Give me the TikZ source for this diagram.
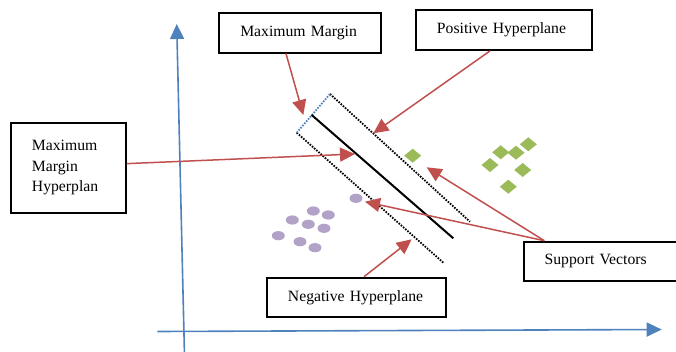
\documentclass[tikz,border=0pt]{standalone}
\usepackage{fontspec}
\setmainfont{Liberation Serif}
\usetikzlibrary{arrows.meta}
\definecolor{axblue}{RGB}{79,129,189}
\definecolor{arred}{RGB}{192,80,77}
\definecolor{ptgreen}{RGB}{155,187,89}
\definecolor{ptpurple}{RGB}{179,162,199}
\tikzset{
  lbox/.style={draw=black, line width=1.9pt, fill=white, anchor=north west, align=left,
    inner xsep=21pt, inner ysep=0pt, font=\fontsize{15.7}{20.5}\selectfont},
  axis/.style={draw=axblue, line width=1.6pt, -{Triangle[length=15pt,width=14pt]}},
  callout/.style={draw=arred, line width=1.5pt, -{Triangle[length=15pt,width=14pt]}},
  marginline/.style={line width=1.8pt, dash pattern=on 1.6pt off 1.3pt},
}
\begin{document}
\begin{tikzpicture}[x=1pt,y=-1pt]
\useasboundingbox (0,0) rectangle (676,352);
\clip (0,0) rectangle (676,352);
% axes
\coordinate (xs) at (157.3,331.5);
\coordinate (xe) at (661.7,329.5);
\coordinate (ys) at (184.5,356);
\coordinate (ye) at (176.7,24);
\draw[axis] (xs) -- (xe);
\draw[axis] (ys) -- (ye);
% margin lines
\coordinate (ua) at (330,94);
\coordinate (ub) at (470,221.7);
\coordinate (la) at (296.7,132.7);
\coordinate (lb) at (444,263.3);
\coordinate (sa) at (311.7,115);
\coordinate (sb) at (453.3,238.3);
\draw[marginline, black] (ua) -- (ub);
\draw[marginline, black] (la) -- (lb);
\draw[marginline, axblue] (la) -- (ua);
\draw[line width=2pt, black] (sa) -- (sb);
% green points
\foreach \p in {(412.7,155.7),(500.7,152.3),(516,152.7),(528.3,144.3),(490,165),(522.7,170),(508.3,186.7)}
  \fill[ptgreen] \p +(-8.5,0) -- +(0,-7) -- +(8.5,0) -- +(0,7) -- cycle;
% purple points
\foreach \p in {(356,198.3),(313.3,211),(328.3,215),(292.3,220),(308.3,224.3),(324,228.3),(278.3,235.7),(300,241.7),(315,247.7)}
  \fill[ptpurple] \p ellipse[x radius=6.5pt, y radius=4.6pt];
% arrow targets
\coordinate (tmm) at (303.3,115);
\coordinate (tph) at (373.3,133.3);
\coordinate (tmmh) at (355,154);
\coordinate (tnh) at (411.7,239.3);
\coordinate (tsv1) at (365,201.7);
\coordinate (tsv2) at (426.7,167.3);
% boxes
\node[lbox, minimum height=40pt, text width=119.7pt] (mm) at (218.3,11.7) {Maximum Margin};
\node[lbox, minimum height=39.7pt, text width=133.7pt] (ph) at (415,9.3) {Positive Hyperplane};
\node[lbox, minimum height=90pt, text width=72.7pt] (mmh) at (10,121.7) {Maximum\\Margin\\Hyperplan};
\node[lbox, minimum height=39.3pt, text width=137pt] (nh) at (266,276.7) {Negative Hyperplane};
\node[lbox, minimum height=39.3pt, text width=118pt] (sv) at (522.7,240.7) {Support Vectors};
% callouts
\draw[callout] ([xshift=67.7pt]mm.south west) -- (tmm);
\draw[callout] ([xshift=75pt]ph.south west) -- (tph);
\draw[callout] ([yshift=4pt]mmh.east) -- (tmmh);
\draw[callout] ([xshift=98pt]nh.north west) -- (tnh);
\draw[callout] ([xshift=21.6pt]sv.north west) -- (tsv1);
\draw[callout] ([xshift=21.6pt]sv.north west) -- (tsv2);
\end{tikzpicture}
\end{document}
